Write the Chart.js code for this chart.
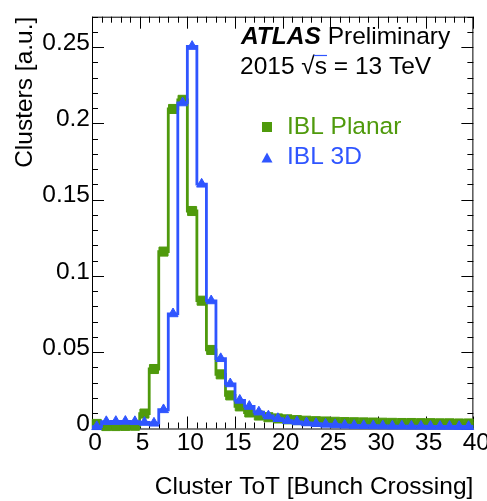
<!DOCTYPE html>
<html>
<head>
<meta charset="utf-8">
<style>
html,body{margin:0;padding:0;background:#fff;}
#wrap{width:487px;height:501px;position:relative;}
</style>
<script src="https://cdn.jsdelivr.net/npm/chart.js@4/dist/chart.umd.min.js"></script>
</head>
<body>
<div id="wrap"><canvas id="c" width="487" height="501"></canvas></div>
<script>
// ---- data ----
const binLowEdges = [0,1,2,3,4,5,6,7,8,9,10,11,12,13,14,15,16,17,18,19,
                     20,21,22,23,24,25,26,27,28,29,30,31,32,33,34,35,36,37,38,39];
const binHighEdge = 40;
const planarValues = [0.0030,0.0016,0.0016,0.0017,0.0018,0.0098,0.0390,0.1160,0.2095,0.2155,
                      0.1426,0.0838,0.0515,0.0355,0.0217,0.0145,0.0105,0.0085,0.0074,0.0066,
                      0.0060,0.0055,0.0051,0.0048,0.0046,0.0044,0.0042,0.0041,0.0040,0.0039,
                      0.0038,0.0037,0.0036,0.0036,0.0035,0.0035,0.0034,0.0034,0.0033,0.0033];
const threeDValues = [0.0012,0.0045,0.0046,0.0047,0.0045,0.0040,0.0035,0.0123,0.0752,0.2135,
                      0.2505,0.1602,0.0837,0.0458,0.0293,0.0185,0.0145,0.0108,0.0082,0.0065,
                      0.0052,0.0044,0.0037,0.0032,0.0028,0.0025,0.0022,0.0020,0.0019,0.0018,
                      0.0017,0.0016,0.0016,0.0015,0.0015,0.0014,0.0014,0.0014,0.0013,0.0013];
const seriesNames = ['IBL Planar','IBL 3D'];
const xTickValues = [0,5,10,15,20,25,30,35,40];
const xTickLabels = ['0','5','10','15','20','25','30','35','40'];
const yTickValues = [0,0.05,0.1,0.15,0.2,0.25];
const yTickLabels = ['0','0.05','0.1','0.15','0.2','0.25'];
const xTitle = 'Cluster ToT [Bunch Crossing]';
const yTitle = 'Clusters [a.u.]';

// ---- style ----
const GREEN = '#4f9a0c';
const BLUE = '#2f55ff';
const FONT = '"Liberation Sans", Arial, Helvetica, sans-serif';
const FS = 24.5;

function histLine(values){
  const pts = binLowEdges.map((x,i)=>({x:x, y:values[i]}));
  pts.push({x:binHighEdge, y:values[values.length-1]});
  return pts;
}
function markers(values){
  return binLowEdges.map((x,i)=>({x:x+0.5, y:values[i]}));
}

const framePlugin = {
  id:'frame',
  beforeDatasetsDraw(chart){
    const {ctx, chartArea:a, scales:{x, y}} = chart;
    ctx.save();
    ctx.strokeStyle = '#000';
    ctx.lineWidth = 1;
    ctx.strokeRect(a.left+0.5, a.top+0.5, a.right-a.left-1, a.bottom-a.top);
    ctx.beginPath();
    for (let v = x.min; v <= x.max + 1e-9; v += 1){
      const px = Math.round(x.getPixelForValue(v)) + 0.5;
      const major = xTickValues.indexOf(v) >= 0;
      const L = major ? 12 : 6;
      ctx.moveTo(px, a.bottom); ctx.lineTo(px, a.bottom - L);
      ctx.moveTo(px, a.top); ctx.lineTo(px, a.top + L);
    }
    for (let k = 0; k <= 27; k++){
      const v = k * 0.01;
      const py = Math.round(y.getPixelForValue(v)) + 0.5;
      const major = (k % 5) === 0;
      const L = major ? 12 : 6;
      ctx.moveTo(a.left, py); ctx.lineTo(a.left + L, py);
      ctx.moveTo(a.right, py); ctx.lineTo(a.right - L, py);
    }
    ctx.stroke();
    ctx.restore();
  }
};

const textPlugin = {
  id:'texts',
  afterDraw(chart){
    const {ctx, chartArea:a} = chart;
    ctx.save();
    ctx.fillStyle = '#000';
    ctx.textBaseline = 'alphabetic';
    ctx.textAlign = 'left';
    ctx.font = 'italic bold ' + FS + 'px ' + FONT;
    ctx.fillText('ATLAS', 241, 43.5);
    const w1 = ctx.measureText('ATLAS ').width;
    ctx.font = FS + 'px ' + FONT;
    ctx.fillText('Preliminary', 241 + w1, 43.5);
    const pre = '2015 \u221A';
    ctx.fillText(pre + 's = 13 TeV', 240, 73.5);
    const wp = ctx.measureText(pre).width;
    const ws = ctx.measureText('s').width;
    ctx.beginPath();
    ctx.lineWidth = 1.2;
    ctx.moveTo(240 + wp - 1, 55.5); ctx.lineTo(240 + wp + ws, 55.5);
    ctx.stroke();

    ctx.textBaseline = 'middle';
    ctx.fillStyle = GREEN;
    ctx.fillRect(262, 122, 10, 10);
    ctx.fillText(seriesNames[0], 287, 127.5);
    ctx.fillStyle = BLUE;
    ctx.beginPath();
    ctx.moveTo(267, 152.5); ctx.lineTo(272.5, 162.5); ctx.lineTo(261.5, 162.5); ctx.closePath();
    ctx.fill();
    ctx.fillText(seriesNames[1], 287, 157);

    ctx.fillStyle = '#000';
    ctx.textAlign = 'right';
    ctx.fillText(xTitle, a.right, 487);
    ctx.translate(25, a.top);
    ctx.rotate(-Math.PI/2);
    ctx.textAlign = 'right';
    ctx.fillText(yTitle, 0, 0);
    ctx.restore();
  }
};

new Chart(document.getElementById('c'), {
  data: {
    datasets: [
      {type:'scatter', label:seriesNames[1]+' markers', data:markers(threeDValues), showLine:false,
       pointStyle:'triangle', pointRadius:5.8, pointBorderWidth:1, pointBackgroundColor:BLUE, pointBorderColor:BLUE,
       clip:false, order:0},
      {type:'line', label:seriesNames[1], data:histLine(threeDValues), stepped:'before', borderColor:BLUE,
       borderWidth:2.8, pointRadius:0, fill:false, clip:false, order:1},
      {type:'scatter', label:seriesNames[0]+' markers', data:markers(planarValues), showLine:false,
       pointStyle:'rect', pointRadius:6.4, pointBorderWidth:1, pointBackgroundColor:GREEN, pointBorderColor:GREEN,
       clip:false, order:2},
      {type:'line', label:seriesNames[0], data:histLine(planarValues), stepped:'before', borderColor:GREEN,
       borderWidth:2.8, pointRadius:0, fill:false, clip:false, order:3}
    ]
  },
  options: {
    responsive:false,
    animation:false,
    devicePixelRatio:1,
    layout:{padding:{top:12, right:7, left:0, bottom:0}, autoPadding:false},
    plugins:{legend:{display:false}, tooltip:{enabled:false}},
    scales:{
      x:{type:'linear', min:0, max:40,
         afterBuildTicks:s=>{ s.ticks = xTickValues.map(v=>({value:v})); },
         afterFit:s=>{ s.height = 72.5; },
         grid:{display:false, drawTicks:false}, border:{display:false},
         ticks:{autoSkip:false, maxRotation:0, padding:0, labelOffset:3, color:'#000',
                font:{family:FONT, size:FS},
                callback:(v)=>xTickLabels[xTickValues.indexOf(v)]}},
      y:{type:'linear', min:0, max:0.27,
         afterBuildTicks:s=>{ s.ticks = yTickValues.map(v=>({value:v})); },
         afterFit:s=>{ s.width = 92; },
         grid:{display:false, drawTicks:false}, border:{display:false},
         ticks:{autoSkip:false, padding:2, labelOffset:-4, color:'#000',
                font:{family:FONT, size:FS},
                callback:(v)=>yTickLabels[yTickValues.indexOf(v)]}}
    }
  },
  plugins:[framePlugin, textPlugin]
});
</script>
</body>
</html>
